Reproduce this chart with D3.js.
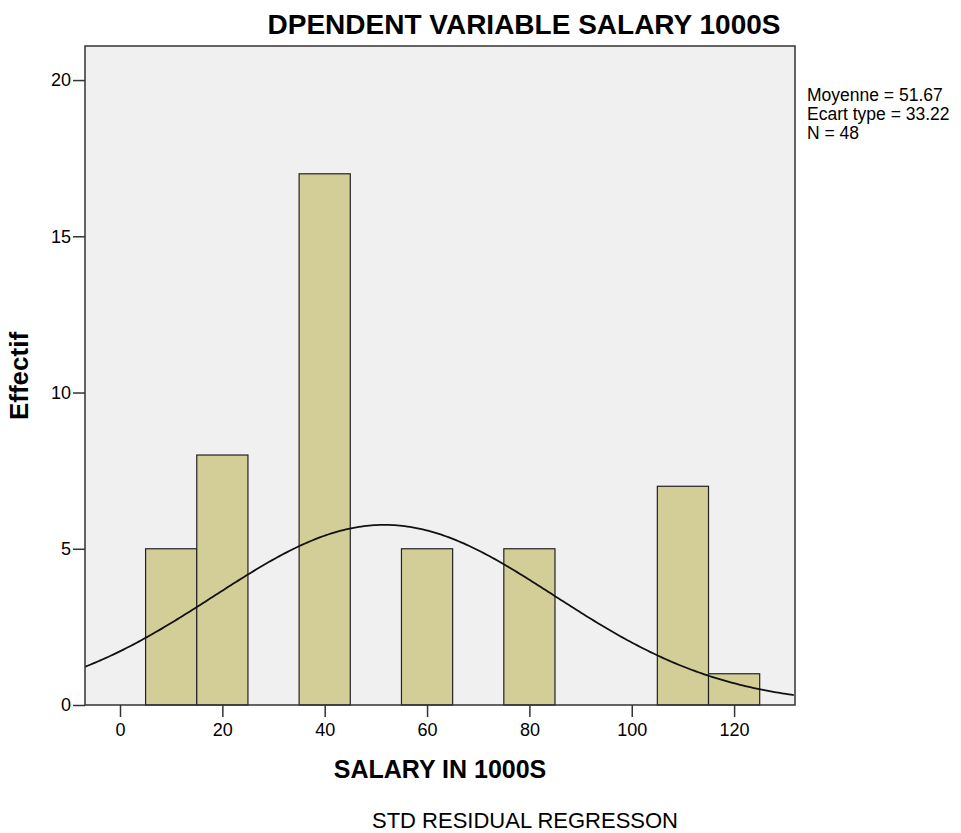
<!DOCTYPE html>
<html>
<head>
<meta charset="utf-8">
<script src="https://cdn.jsdelivr.net/npm/d3@7"></script>
<style>
  body { margin: 0; background: #fff; }
  svg text { font-family: "Liberation Sans", Arial, sans-serif; fill: #000; }
</style>
</head>
<body>
<div id="chart"></div>
<script>
  // histogram bins (lower edge, upper edge) and counts
  const binStarts = [5, 15, 35, 55, 75, 105, 115];
  const binEnds   = [15, 25, 45, 65, 85, 115, 125];
  const counts    = [5, 8, 17, 5, 5, 7, 1];
  const xTicks = [0, 20, 40, 60, 80, 100, 120];
  const yTicks = [0, 5, 10, 15, 20];
  // summary stats shown on the right (used for the normal curve)
  const statMean = [51.67];
  const statSd = [33.22];
  const statN = [48];
  const binWidth = [10];

  var width = 961, height = 833;
  var pLeft = 85, pRight = 795, pTop = 46, pBottom = 705;

  var svg = d3.select("#chart").append("svg")
    .attr("width", width).attr("height", height);

  var x = d3.scaleLinear().domain([-6.84, 131.9]).range([pLeft, pRight]);
  var y = d3.scaleLinear().domain([0, 21.09]).range([pBottom, pTop]);

  // plot background
  svg.append("rect")
    .attr("x", pLeft).attr("y", pTop)
    .attr("width", pRight - pLeft).attr("height", pBottom - pTop)
    .attr("fill", "#f0f0f0");

  // clip for curve
  svg.append("clipPath").attr("id", "clip")
    .append("rect").attr("x", pLeft).attr("y", pTop)
    .attr("width", pRight - pLeft).attr("height", pBottom - pTop);

  // bars
  svg.selectAll(".bar")
    .data(counts)
    .enter().append("rect")
    .attr("class", "bar")
    .attr("x", function(d, i) { return x(binStarts[i]); })
    .attr("y", function(d) { return y(d); })
    .attr("width", function(d, i) { return x(binEnds[i]) - x(binStarts[i]); })
    .attr("height", function(d) { return y(0) - y(d); })
    .attr("fill", "#d3ce97")
    .attr("stroke", "#222")
    .attr("stroke-width", 1.2);

  // normal curve from mean / sd / N
  var m = statMean[0], s = statSd[0], n = statN[0], w = binWidth[0];
  var pts = d3.range(-6.84, 132, 0.5).map(function(v) {
    var z = (v - m) / s;
    return [v, n * w * Math.exp(-0.5 * z * z) / (s * Math.sqrt(2 * Math.PI))];
  });
  svg.append("path")
    .datum(pts)
    .attr("clip-path", "url(#clip)")
    .attr("fill", "none")
    .attr("stroke", "#111")
    .attr("stroke-width", 1.8)
    .attr("d", d3.line().x(function(d) { return x(d[0]); }).y(function(d) { return y(d[1]); }));

  // frame
  svg.append("rect")
    .attr("x", pLeft).attr("y", pTop)
    .attr("width", pRight - pLeft).attr("height", pBottom - pTop)
    .attr("fill", "none")
    .attr("stroke", "#333")
    .attr("stroke-width", 1.5);

  // axes
  var xAxis = d3.axisBottom(x).tickValues(xTicks).tickSize(12).tickPadding(6);
  var yAxis = d3.axisLeft(y).tickValues(yTicks).tickSize(12).tickPadding(2);

  var gx = svg.append("g").attr("transform", "translate(0," + pBottom + ")").call(xAxis);
  var gy = svg.append("g").attr("transform", "translate(" + pLeft + ",0)").call(yAxis);
  [gx, gy].forEach(function(g) {
    g.select(".domain").remove();
    g.selectAll(".tick line").attr("stroke", "#333").attr("stroke-width", 1.5);
    g.selectAll(".tick text")
      .style("font-family", "'Liberation Sans', Arial, sans-serif")
      .style("font-size", "18px").attr("fill", "#222");
  });

  // title
  svg.append("text")
    .attr("x", 524).attr("y", 34)
    .attr("text-anchor", "middle")
    .style("font-size", "28px").style("font-weight", "bold")
    .text("DPENDENT VARIABLE SALARY 1000S");

  // x axis label
  svg.append("text")
    .attr("x", 440).attr("y", 778)
    .attr("text-anchor", "middle")
    .style("font-size", "25px").style("font-weight", "bold")
    .text("SALARY IN 1000S");

  // y axis label
  svg.append("text")
    .attr("transform", "translate(28,376) rotate(-90)")
    .attr("text-anchor", "middle")
    .style("font-size", "26px").style("font-weight", "bold")
    .text("Effectif");

  // footer
  svg.append("text")
    .attr("x", 525).attr("y", 828)
    .attr("text-anchor", "middle")
    .style("font-size", "22px")
    .attr("fill", "#222")
    .text("STD RESIDUAL REGRESSON");

  // stats
  var statLines = [
    "Moyenne = " + statMean[0].toFixed(2),
    "Ecart type = " + statSd[0].toFixed(2),
    "N = " + statN[0]
  ];
  svg.selectAll(".stat")
    .data(statLines)
    .enter().append("text")
    .attr("class", "stat")
    .attr("x", 807)
    .attr("y", function(d, i) { return 100.5 + i * 19; })
    .style("font-size", "17.5px")
    .attr("fill", "#111")
    .text(function(d) { return d; });
</script>
</body>
</html>
